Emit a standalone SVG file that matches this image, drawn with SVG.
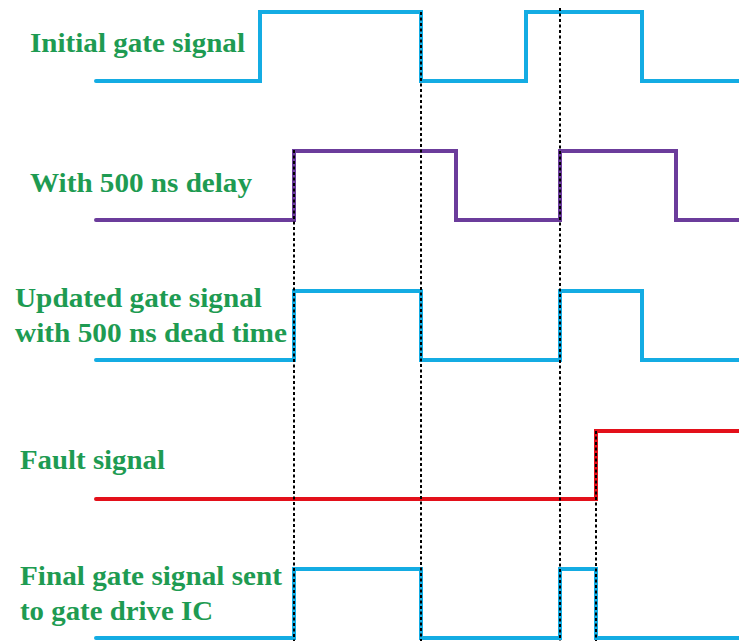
<svg xmlns="http://www.w3.org/2000/svg" width="739" height="641" viewBox="0 0 739 641">
<style>
.lbl{font-family:"Liberation Serif","Times New Roman",serif;font-weight:bold;font-size:27px;fill:#1E9B52}
.sig{fill:none;stroke-width:4;stroke-linejoin:miter;stroke-linecap:round}
.cy{stroke:#14ACE3}
.pu{stroke:#6B3C9B}
.rd{stroke:#E3101A}
.dash{fill:none;stroke:#000;stroke-width:2;stroke-dasharray:3,2.5}
</style>
<rect width="739" height="641" fill="#fff"/>
<g id="sig-initial">
<text class="lbl" x="30" y="52" textLength="215" lengthAdjust="spacingAndGlyphs">Initial gate signal</text>
<path class="sig cy" d="M96,81 H260 V12 H421 V81 H526 V12 H642 V81 H741"/>
</g>
<g id="sig-delay">
<text class="lbl" x="30" y="192" textLength="222" lengthAdjust="spacingAndGlyphs">With 500 ns delay</text>
<path class="sig pu" d="M96,220 H294 V151 H456 V220 H560 V151 H676 V220 H741"/>
</g>
<g id="sig-updated">
<text class="lbl" x="15" y="307" textLength="247" lengthAdjust="spacingAndGlyphs">Updated gate signal</text>
<text class="lbl" x="15" y="342" textLength="272" lengthAdjust="spacingAndGlyphs">with 500 ns dead time</text>
<path class="sig cy" d="M96,360 H294 V291 H421 V360 H560 V291 H642 V360 H741"/>
</g>
<g id="sig-fault">
<text class="lbl" x="20" y="469" textLength="145" lengthAdjust="spacingAndGlyphs">Fault signal</text>
<path class="sig rd" d="M96,499 H596 V431 H741"/>
</g>
<g id="sig-final">
<text class="lbl" x="20" y="585" textLength="262" lengthAdjust="spacingAndGlyphs">Final gate signal sent</text>
<text class="lbl" x="20" y="620" textLength="193" lengthAdjust="spacingAndGlyphs">to gate drive IC</text>
<path class="sig cy" d="M96,638 H294 V569 H421 V638 H560 V569 H596 V638 H741"/>
</g>
<g id="connectors">
<line class="dash" x1="294" y1="150" x2="294" y2="641"/>
<line class="dash" x1="421" y1="12" x2="421" y2="641"/>
<line class="dash" x1="560" y1="8" x2="560" y2="641"/>
<line class="dash" x1="596" y1="431" x2="596" y2="641"/>
</g>
</svg>
